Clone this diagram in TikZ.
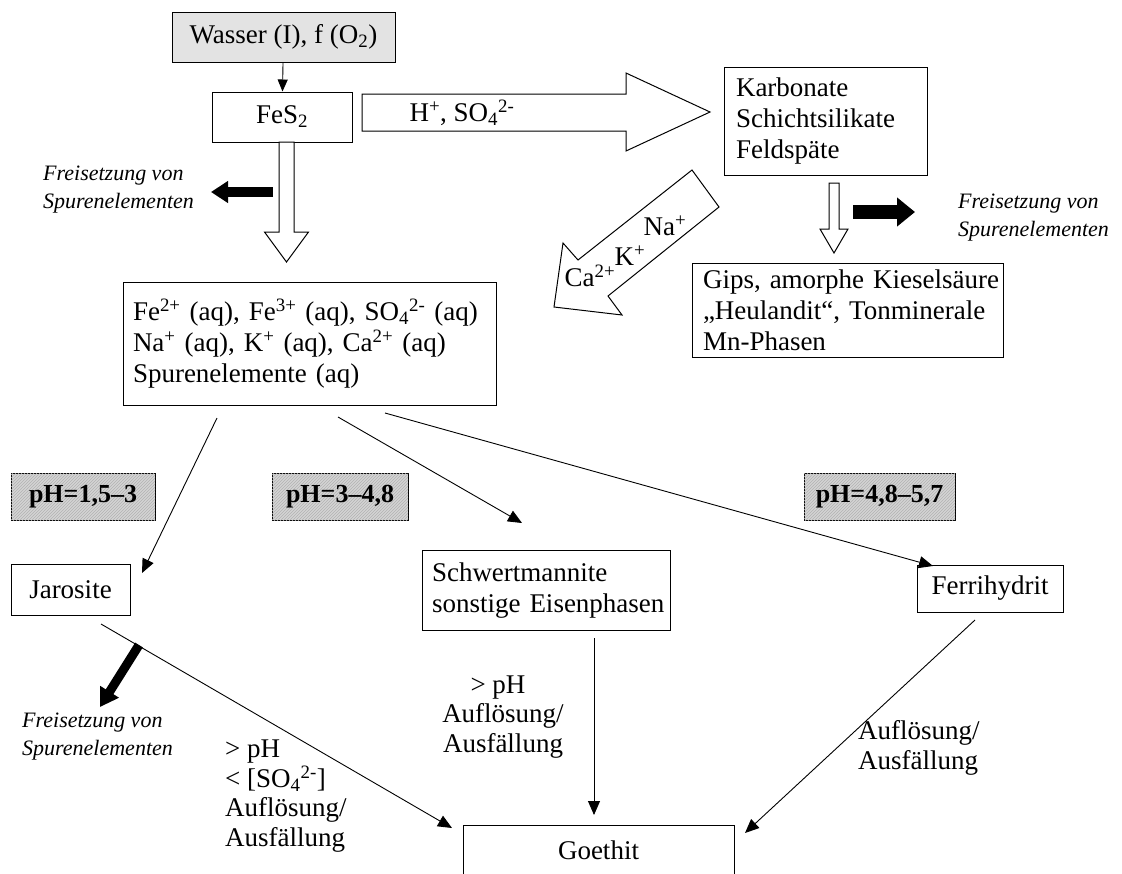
\documentclass[tikz,border=0pt]{standalone}
\usepackage{fontspec}
\setmainfont{Liberation Serif}
\usetikzlibrary{arrows.meta,patterns,calc}
\begin{document}
\begin{tikzpicture}[x=1pt,y=-1pt,
  every node/.style={font=\fontsize{27}{31}\selectfont},
  box/.style={draw, line width=1pt, inner sep=0pt},
  lbox/.style={box, align=left, inner ysep=0pt},
  phbox/.style={box, fill=black!17, postaction={pattern=north east lines, pattern color=black!30},
     minimum height=47, font=\fontsize{26}{30}\selectfont\bfseries},
  arr/.style={line width=0.9pt, -{Triangle[length=14pt,width=12pt]}},
  hollow/.style={draw, line width=1pt, fill=white, line join=miter},
  note/.style={font=\fontsize{22}{28}\selectfont\itshape, align=left, inner sep=0pt},
  cond/.style={font=\fontsize{27}{29.5}\selectfont, inner sep=0pt}
]
\useasboundingbox (0,0) rectangle (1122,873);
\clip (0,0) rectangle (1122,873);

% boxes
\node[box, fill=black!11, minimum width=223, minimum height=50] (wasser) at (283.5,37) {Wasser (I), f (O\textsubscript{2})};
\node[box, minimum width=140, minimum height=50] (fes2) at (282,117) {FeS\textsubscript{2}};
\node[lbox, inner xsep=12, text width=179, minimum height=108] (karb) at (825.5,121)
  {Karbonate\\Schichtsilikate\\Feldspäte};
\node[lbox, inner xsep=11, text width=289, minimum height=94] (gips) at (847.5,310)
  {\mbox{Gips, amorphe Kieselsäure}\\\mbox{„Heulandit“, Tonminerale}\\Mn-Phasen};
\node[lbox, inner xsep=10, text width=353, minimum height=123] (fe) at (309.5,343.5)
  {\mbox{Fe\textsuperscript{2+} (aq), Fe\textsuperscript{3+} (aq), SO\textsubscript{4}\textsuperscript{2-} (aq)}\\\mbox{Na\textsuperscript{+} (aq), K\textsuperscript{+} (aq), Ca\textsuperscript{2+} (aq)}\\Spurenelemente (aq)};
\node[phbox, minimum width=144] (ph1) at (83,496.5) {pH=1,5–3};
\node[phbox, minimum width=136] (ph2) at (340,496.5) {pH=3–4,8};
\node[phbox, minimum width=151] (ph3) at (879.5,496.5) {pH=4,8–5,7};
\node[box, minimum width=119, minimum height=51] (jar) at (70.5,589.5) {Jarosite};
\node[lbox, inner xsep=10, text width=228, minimum height=80] (schw) at (546,590.5)
  {Schwertmannite\\\mbox{sonstige Eisenphasen}};
\node[box, minimum width=146, minimum height=47] (ferri) at (990,588.5) {Ferrihydrit};
\node[box, minimum width=271, minimum height=50] (goe) at (598.5,850) {Goethit};

% thin arrows
\draw[line width=0.9pt, -{Triangle[length=12pt,width=10pt]}] (wasser) -- (fes2);
\coordinate (s1) at (217,418); \coordinate (e1) at (142,573);
\coordinate (s2) at (338,417); \coordinate (e2) at (522,523);
\coordinate (s3) at (385,413); \coordinate (e3) at (933,566);
\coordinate (s4) at (101,624); \coordinate (e4) at (452,828);
\coordinate (s5) at (594,638); \coordinate (e5) at (594,815);
\coordinate (s6) at (975,620); \coordinate (e6) at (745,833);
\draw[arr] (s1) -- (e1);
\draw[arr] (s2) -- (e2);
\draw[arr] (s3) -- (e3);
\draw[arr] (s4) -- (e4);
\draw[arr] (s5) -- (e5);
\draw[arr] (s6) -- (e6);

% hollow block arrows
\draw[hollow] (362,94) -- (626,94) -- (626,73) -- (710,112) -- (626,151) -- (626,131) -- (362,131) -- cycle;
\node (hso) at (462,113) {H\textsuperscript{+}, SO\textsubscript{4}\textsuperscript{2-}};
\draw[hollow] (279,142) -- (294,142) -- (294,232) -- (308.5,232) -- (286.5,262) -- (264.5,232) -- (279,232) -- cycle;
\draw[hollow] (829,183) -- (839,183) -- (839,229) -- (848,229) -- (834,253) -- (820,229) -- (829,229) -- cycle;
\draw[hollow] (692,170) -- (719,207) -- (608,296) -- (622,315) -- (554,307) -- (563,243) -- (578,260) -- cycle;
\node (na) at (665,226) {Na\textsuperscript{+}};
\node (kk) at (630,256) {K\textsuperscript{+}};
\node (ca) at (590,276) {Ca\textsuperscript{2+}};

% black arrows
\coordinate (b1s) at (273,192); \coordinate (b1e) at (211,192);
\draw[line width=10pt, -{Triangle[length=17pt,width=21pt]}] (b1s) -- (b1e);
\coordinate (b2s) at (853,212); \coordinate (b2e) at (915,212);
\draw[line width=14pt, -{Triangle[length=18pt,width=28pt]}] (b2s) -- (b2e);
\coordinate (b3s) at (139,645); \coordinate (b3e) at (100,707);
\draw[line width=9pt, -{Triangle[length=18pt,width=21pt]}] (b3s) -- (b3e);

% notes
\node[note, anchor=west] (n1) at (43,190) {Freisetzung von\\Spurenelementen};
\node[note, anchor=west] (n2) at (958,218) {Freisetzung von\\Spurenelementen};
\node[note, anchor=west] (n3) at (22,737) {Freisetzung von\\Spurenelementen};

% conditions
\node[cond, anchor=west, align=left] (c1) at (225,796) {> pH\\< [SO\textsubscript{4}\textsuperscript{2-}]\\Auflösung/\\Ausfällung};
\node[cond, align=center] (c2) at (503,717) {\hspace*{-10pt}> pH\\Auflösung/\\Ausfällung};
\node[cond, anchor=west, align=left] (c3) at (858,748) {Auflösung/\\Ausfällung};
\end{tikzpicture}
\end{document}
